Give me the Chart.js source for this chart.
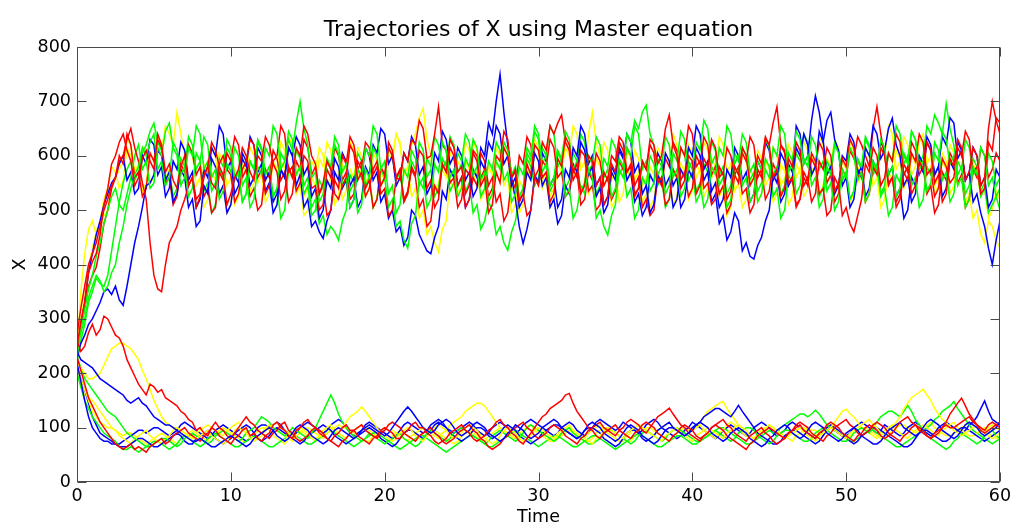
<!DOCTYPE html>
<html>
<head>
<meta charset="utf-8">
<title>Trajectories of X using Master equation</title>
<script src="https://cdn.jsdelivr.net/npm/chart.js@4.4.1/dist/chart.umd.min.js"></script>
<style>
  html, body { margin: 0; padding: 0; background: #ffffff; }
  #wrap { position: relative; width: 1021px; height: 529px; }
</style>
</head>
<body>
<div id="wrap"><canvas id="chart"></canvas></div>
<script>
// Sampling times (step 0.25)
const times = [
  0, 0.25, 0.5, 0.75, 1, 1.25, 1.5, 1.75, 2, 2.25, 2.5, 2.75, 3, 3.25, 3.5, 3.75, 4, 4.25, 4.5, 4.75,
  5, 5.25, 5.5, 5.75, 6, 6.25, 6.5, 6.75, 7, 7.25, 7.5, 7.75, 8, 8.25, 8.5, 8.75, 9, 9.25, 9.5, 9.75,
  10, 10.25, 10.5, 10.75, 11, 11.25, 11.5, 11.75, 12, 12.25, 12.5, 12.75, 13, 13.25, 13.5, 13.75, 14, 14.25, 14.5, 14.75,
  15, 15.25, 15.5, 15.75, 16, 16.25, 16.5, 16.75, 17, 17.25, 17.5, 17.75, 18, 18.25, 18.5, 18.75, 19, 19.25, 19.5, 19.75,
  20, 20.25, 20.5, 20.75, 21, 21.25, 21.5, 21.75, 22, 22.25, 22.5, 22.75, 23, 23.25, 23.5, 23.75, 24, 24.25, 24.5, 24.75,
  25, 25.25, 25.5, 25.75, 26, 26.25, 26.5, 26.75, 27, 27.25, 27.5, 27.75, 28, 28.25, 28.5, 28.75, 29, 29.25, 29.5, 29.75,
  30, 30.25, 30.5, 30.75, 31, 31.25, 31.5, 31.75, 32, 32.25, 32.5, 32.75, 33, 33.25, 33.5, 33.75, 34, 34.25, 34.5, 34.75,
  35, 35.25, 35.5, 35.75, 36, 36.25, 36.5, 36.75, 37, 37.25, 37.5, 37.75, 38, 38.25, 38.5, 38.75, 39, 39.25, 39.5, 39.75,
  40, 40.25, 40.5, 40.75, 41, 41.25, 41.5, 41.75, 42, 42.25, 42.5, 42.75, 43, 43.25, 43.5, 43.75, 44, 44.25, 44.5, 44.75,
  45, 45.25, 45.5, 45.75, 46, 46.25, 46.5, 46.75, 47, 47.25, 47.5, 47.75, 48, 48.25, 48.5, 48.75, 49, 49.25, 49.5, 49.75,
  50, 50.25, 50.5, 50.75, 51, 51.25, 51.5, 51.75, 52, 52.25, 52.5, 52.75, 53, 53.25, 53.5, 53.75, 54, 54.25, 54.5, 54.75,
  55, 55.25, 55.5, 55.75, 56, 56.25, 56.5, 56.75, 57, 57.25, 57.5, 57.75, 58, 58.25, 58.5, 58.75, 59, 59.25, 59.5, 59.75,
  60
];

// Trajectories settling on the upper state (~560)
const redHighA = [
  250,295, 330,385, 405,420, 455,510, 540,585, 600,625, 640,610, 590,545, 560,595, 610,590,
  575,640, 620,570, 585,555, 540,580, 600,545, 560,505, 525,560, 580,625, 610,580, 565,510,
  530,560, 575,615, 600,570, 555,600, 590,635, 620,585, 570,520, 535,580, 560,615, 600,655,
  640,600, 585,530, 550,590, 575,530, 520,545, 560,620, 605,555, 570,525, 540,575, 590,545,
  560,625, 610,560, 575,515, 530,580, 565,610, 600,540, 555,505, 520,585, 570,630, 615,570,
  580,530, 545,605, 590,545, 560,495, 510,570, 550,615, 600,560, 575,515, 530,585, 565,620,
  610,560, 570,515, 530,595, 580,635, 620,570, 585,530, 545,600, 590,545, 560,510, 525,585,
  570,625, 610,570, 585,525, 540,590, 575,630, 620,585, 600,650, 675,620, 600,540, 555,600,
  590,530, 545,595, 580,630, 615,560, 570,520, 535,580, 565,615, 600,545, 560,600, 585,635,
  620,560, 575,525, 540,595, 580,625, 610,545, 560,515, 530,590, 575,615, 600,535, 550,490,
  505,475, 460,490, 520,585, 570,615, 600,545, 560,605, 590,640, 625,565, 580,530, 545,590,
  575,625, 610,550, 565,515, 530,595, 580,630, 615,555, 570,615, 600,545, 560,650, 700,665,
  640
];
const redHighB = [
  270,320, 360,400, 420,440, 470,500, 520,545, 560,590, 600,630, 650,615, 590,550, 520,440,
  380,355, 350,400, 440,455, 470,500, 520,545, 560,520, 530,565, 580,550, 540,585, 600,575,
  565,515, 530,575, 590,630, 620,560, 575,530, 545,590, 600,655, 640,570, 580,535, 550,600,
  590,540, 545,500, 510,575, 560,615, 600,555, 570,520, 530,590, 575,625, 615,565, 580,530,
  540,490, 500,560, 555,605, 590,630, 620,665, 650,595, 600,640, 690,620, 610,550, 560,505,
  520,575, 565,610, 600,560, 575,525, 540,600, 590,645, 630,560, 570,520, 530,490, 500,560,
  545,590, 580,630, 615,560, 570,525, 535,575, 560,610, 600,535, 545,500, 510,570, 555,600,
  590,635, 625,570, 580,530, 540,590, 575,620, 605,550, 560,510, 520,575, 560,615, 600,655,
  640,580, 590,540, 550,510, 520,580, 565,615, 600,565, 580,530, 540,495, 510,575, 560,630,
  620,660, 690,620, 610,550, 560,510, 520,570, 555,605, 590,530, 540,490, 500,560, 545,595,
  580,630, 615,560, 570,515, 530,580, 565,615, 600,550, 560,505, 520,570, 555,605, 590,640,
  625,565, 575,525, 540,595, 580,550, 560,615, 600,645, 630,570, 580,530, 540,625, 610,670,
  660
];
const redHighC = [
  240,285, 320,360, 380,395, 430,475, 500,540, 560,600, 585,640, 620,560, 570,525, 540,605,
  590,630, 615,550, 560,510, 525,585, 570,620, 605,565, 580,525, 540,495, 505,570, 555,605,
  590,635, 620,560, 575,525, 540,500, 510,575, 560,610, 595,555, 570,515, 530,590, 575,630,
  615,565, 580,530, 545,490, 500,555, 540,600, 585,635, 620,575, 590,540, 555,505, 520,580,
  565,615, 600,560, 575,520, 535,575, 560,505, 520,470, 480,545, 530,585, 570,615, 600,545,
  560,505, 520,560, 545,605, 590,545, 560,515, 530,480, 495,555, 540,600, 585,635, 620,560,
  575,625, 610,655, 640,660, 675,625, 610,555, 570,510, 520,570, 555,605, 590,545, 560,520,
  535,590, 575,615, 600,545, 560,505, 520,490, 500,560, 545,595, 580,625, 610,555, 570,525,
  540,600, 585,635, 620,565, 580,530, 545,495, 510,565, 550,605, 590,635, 620,560, 575,520,
  535,585, 570,620, 605,545, 560,505, 520,560, 545,595, 580,625, 610,550, 565,515, 530,575,
  560,610, 595,635, 620,600, 580,650, 690,640, 600,545, 560,515, 530,585, 570,625, 610,565,
  580,530, 545,495, 510,570, 555,605, 590,550, 565,505, 520,575, 560,615, 600,560, 575,605,
  590
];
const yellowHighA = [
  240,350, 420,465, 480,455, 470,490, 500,540, 560,575, 590,630, 620,570, 580,615, 600,550,
  560,625, 610,655, 640,620, 680,640, 600,545, 560,505, 520,585, 570,615, 600,530, 545,495,
  510,575, 560,605, 590,535, 550,615, 600,555, 570,515, 530,590, 575,635, 620,565, 580,525,
  540,590, 575,615, 600,545, 560,510, 525,585, 570,625, 610,560, 575,525, 540,605, 590,545,
  560,615, 600,640, 620,565, 580,620, 640,670, 687,630, 600,535, 550,575, 560,605, 590,530,
  545,590, 575,625, 610,550, 565,515, 530,590, 575,615, 600,535, 550,495, 510,575, 560,605,
  590,540, 555,505, 520,585, 570,615, 600,655, 640,575, 590,530, 545,595, 580,625, 610,555,
  570,515, 530,575, 560,610, 595,545, 560,505, 520,570, 555,605, 590,640, 620,560, 575,520,
  535,585, 570,625, 610,560, 575,525, 540,490, 505,565, 550,605, 590,545, 560,515, 530,590,
  575,615, 600,545, 560,510, 525,585, 570,625, 610,570, 585,530, 545,595, 580,630, 615,555,
  570,515, 530,580, 565,615, 600,545, 560,505, 520,570, 555,610, 595,635, 620,565, 580,625,
  640,585, 600,545, 560,605, 590,530, 545,590, 575,515, 530,485, 500,455, 440,480, 470,445,
  430
];
const yellowHighB = [
  250,300, 340,395, 430,460, 480,520, 540,580, 570,540, 555,615, 600,570, 585,535, 550,605,
  590,635, 620,560, 575,525, 540,595, 580,620, 605,545, 560,505, 520,570, 555,605, 590,545,
  560,510, 525,585, 570,615, 600,550, 565,515, 530,590, 575,625, 610,565, 580,530, 545,490,
  500,560, 545,595, 580,625, 610,555, 570,520, 535,575, 560,615, 600,550, 565,505, 520,570,
  555,605, 590,640, 625,565, 580,525, 540,485, 500,455, 470,440, 423,465, 480,555, 540,590,
  575,625, 610,555, 570,520, 535,580, 565,615, 600,545, 560,495, 510,555, 540,595, 580,630,
  615,555, 570,525, 540,595, 580,625, 610,560, 575,530, 550,640, 680,625, 600,545, 560,505,
  520,575, 560,610, 595,555, 570,515, 530,580, 565,615, 600,545, 560,510, 525,585, 570,620,
  605,560, 575,525, 540,595, 580,635, 620,570, 585,535, 550,505, 520,575, 560,610, 595,545,
  560,515, 530,585, 570,620, 605,560, 575,525, 540,600, 585,635, 620,565, 580,530, 545,590,
  575,625, 610,550, 565,515, 530,585, 570,615, 600,655, 640,575, 590,540, 555,600, 585,635,
  620,565, 580,530, 545,590, 575,620, 605,545, 560,510, 525,585, 570,525, 540,485, 500,535,
  520
];
const greenHighA = [
  240,275, 300,340, 360,380, 370,350, 360,385, 400,440, 470,510, 540,565, 580,615, 600,625,
  640,575, 590,545, 560,625, 610,565, 580,525, 540,605, 590,635, 620,560, 575,520, 535,585,
  570,615, 600,545, 560,505, 520,580, 565,615, 600,655, 640,575, 590,630, 610,660, 700,650,
  620,560, 570,515, 530,590, 575,620, 605,545, 560,505, 520,575, 560,615, 600,655, 640,575,
  590,530, 545,495, 510,575, 560,610, 595,545, 560,505, 520,585, 570,625, 610,560, 575,525,
  540,595, 580,630, 615,555, 570,515, 530,590, 575,625, 610,565, 580,525, 540,605, 590,645,
  630,570, 585,535, 550,605, 590,525, 540,485, 500,545, 530,575, 560,485, 500,470, 454,490,
  510,575, 560,615, 600,655, 640,575, 590,535, 550,595, 580,635, 620,560, 575,525, 540,590,
  575,625, 610,665, 650,585, 600,545, 560,505, 520,580, 565,615, 600,555, 570,515, 530,575,
  560,615, 600,655, 640,570, 585,530, 545,595, 580,635, 620,575, 590,535, 550,500, 515,575,
  560,615, 600,555, 570,515, 530,590, 575,630, 615,565, 580,525, 540,600, 585,645, 630,575,
  590,535, 550,605, 590,645, 630,585, 600,545, 560,505, 520,580, 565,615, 600,545, 560,525,
  540
];
const greenHighB = [
  230,280, 320,355, 380,415, 440,475, 500,525, 540,510, 500,530, 560,600, 620,575, 590,540,
  550,615, 600,645, 660,615, 600,545, 560,615, 600,655, 640,575, 590,535, 550,595, 580,630,
  615,560, 570,515, 530,590, 575,625, 610,565, 580,525, 540,605, 590,645, 630,565, 580,530,
  545,490, 500,555, 540,595, 580,635, 620,570, 585,535, 550,495, 510,575, 560,615, 600,545,
  560,505, 520,470, 480,445, 430,475, 490,555, 540,595, 580,635, 620,575, 590,535, 550,605,
  590,640, 625,565, 580,525, 540,590, 575,625, 610,555, 570,515, 530,580, 565,615, 600,655,
  640,585, 600,545, 560,610, 595,645, 630,575, 590,535, 550,600, 585,635, 620,560, 575,525,
  540,595, 580,640, 625,665, 650,680, 693,640, 620,565, 580,530, 545,605, 590,645, 630,575,
  590,535, 550,505, 520,580, 565,615, 600,655, 640,585, 600,545, 560,515, 530,590, 575,630,
  615,565, 580,530, 545,605, 590,645, 630,585, 600,545, 560,505, 520,580, 565,620, 605,555,
  570,520, 535,595, 580,635, 620,570, 585,530, 545,605, 590,655, 640,585, 600,545, 560,505,
  520,580, 565,625, 610,555, 570,515, 530,590, 575,630, 615,565, 580,535, 550,605, 590,545,
  560
];
const greenHighC = [
  220,260, 290,330, 350,375, 365,360, 380,425, 470,515, 550,575, 590,555, 570,605, 620,645,
  660,625, 610,555, 570,525, 540,595, 580,635, 620,575, 590,535, 550,495, 510,575, 560,615,
  600,555, 570,515, 530,590, 575,630, 615,565, 580,525, 540,485, 500,575, 560,610, 595,545,
  560,505, 520,475, 490,455, 470,460, 445,480, 500,565, 550,605, 590,545, 560,505, 520,575,
  560,615, 600,555, 570,515, 530,590, 575,625, 610,560, 575,525, 540,595, 580,635, 620,570,
  585,535, 550,495, 510,465, 480,515, 500,455, 470,440, 426,460, 480,525, 540,595, 580,545,
  560,615, 600,655, 640,580, 595,540, 555,605, 590,640, 625,570, 585,530, 545,595, 580,630,
  615,565, 580,525, 540,485, 500,560, 545,600, 585,545, 560,505, 520,575, 560,615, 600,555,
  570,515, 530,585, 570,625, 610,565, 580,530, 545,605, 590,640, 625,570, 585,535, 550,595,
  580,525, 540,485, 500,565, 550,605, 590,640, 625,565, 580,525, 540,590, 575,625, 610,555,
  570,520, 535,590, 575,630, 615,565, 580,525, 540,490, 505,565, 550,605, 590,645, 630,585,
  600,655, 640,675, 660,640, 696,650, 620,565, 580,530, 545,595, 580,525, 540,495, 510,525,
  500
];
const blueHighA = [
  230,255, 270,290, 300,315, 330,350, 355,345, 360,335, 325,360, 400,440, 470,505, 545,550,
  565,610, 600,555, 570,515, 530,575, 560,505, 520,470, 480,545, 530,595, 580,530, 545,495,
  510,565, 550,605, 590,545, 560,615, 600,555, 570,515, 530,575, 560,615, 600,635, 620,565,
  580,525, 540,485, 500,555, 540,595, 580,540, 555,505, 520,575, 560,615, 600,555, 570,515,
  530,485, 500,460, 470,435, 450,500, 490,455, 440,425, 420,450, 470,535, 520,575, 560,615,
  600,555, 570,525, 540,590, 575,625, 610,655, 640,585, 600,545, 560,505, 520,570, 555,605,
  590,545, 560,505, 520,475, 490,545, 530,585, 570,625, 610,565, 580,525, 540,495, 510,570,
  555,610, 595,640, 625,570, 585,530, 545,495, 510,565, 550,605, 590,545, 560,505, 520,575,
  560,615, 600,555, 570,515, 530,475, 490,445, 460,495, 480,425, 440,415, 410,435, 450,480,
  500,565, 550,605, 590,545, 560,615, 600,640, 620,565, 580,645, 625,665, 680,630, 610,545,
  560,505, 520,575, 560,615, 600,655, 640,595, 610,650, 669,620, 600,545, 560,515, 530,585,
  570,625, 610,565, 580,525, 540,590, 575,625, 610,555, 570,515, 530,495, 470,430, 400,445,
  480
];
const blueHighB = [
  240,290, 330,385, 420,455, 480,510, 530,550, 560,585, 600,555, 570,530, 540,600, 585,630,
  620,565, 580,525, 540,590, 575,625, 610,555, 570,505, 520,575, 560,615, 600,655, 640,575,
  590,530, 545,595, 580,635, 620,570, 585,535, 550,495, 510,575, 560,615, 600,545, 565,505,
  520,470, 480,460, 448,480, 500,570, 555,605, 590,545, 560,505, 520,580, 565,620, 605,650,
  640,585, 600,545, 560,605, 590,635, 620,565, 580,530, 545,605, 590,645, 630,585, 600,545,
  560,505, 520,575, 560,615, 600,660, 640,700, 750,680, 620,560, 520,470, 439,465, 500,565,
  550,605, 590,545, 560,505, 520,575, 560,615, 600,655, 640,585, 600,545, 560,510, 525,580,
  565,615, 600,555, 570,515, 530,490, 505,565, 550,605, 590,545, 560,505, 520,575, 560,615,
  600,655, 640,575, 590,535, 550,505, 520,575, 560,615, 600,555, 570,515, 530,590, 575,625,
  610,555, 570,515, 530,585, 570,655, 640,585, 600,665, 710,680, 630,565, 580,530, 545,600,
  590,640, 625,565, 580,525, 540,590, 575,625, 610,565, 580,525, 540,485, 500,560, 545,600,
  585,635, 620,565, 580,635, 620,670, 660,595, 610,555, 570,615, 600,545, 560,505, 520,575,
  560
];

// Trajectories settling on the lower state (~90)
const redLowA = [
  260,240, 250,275, 290,270, 280,305, 300,285, 270,265, 250,225, 210,195, 180,170, 160,180,
  175,165, 170,155, 150,145, 140,130, 125,115, 110,95, 100,90, 85,100, 95,85, 80,75,
  70,80, 85,95, 100,85, 90,80, 75,85, 90,105, 110,100, 95,85, 80,95, 100,110,
  115,105, 100,90, 85,80, 75,85, 90,100, 105,95, 95,85, 80,75, 70,80, 85,95,
  100,95, 90,80, 80,90, 95,105, 110,100, 100,90, 85,75, 70,75, 80,90, 95,100,
  105,95, 90,80, 75,80, 85,95, 100,110, 115,105, 100,90, 85,75, 70,80, 90,100,
  110,120, 125,135, 140,145, 150,160, 163,145, 130,120, 110,100, 95,85, 80,90, 95,100,
  105,95, 90,85, 80,90, 95,105, 110,105, 100,90, 85,80, 75,85, 90,100, 105,100,
  95,85, 80,85, 90,100, 105,110, 115,105, 100,90, 85,80, 75,85, 90,95, 100,90,
  85,75, 70,75, 80,90, 95,100, 105,95, 90,85, 80,90, 95,105, 110,105, 100,90,
  85,80, 75,85, 90,100, 105,100, 95,85, 80,85, 90,100, 110,115, 120,110, 105,95,
  90,85, 80,90, 95,100, 110,125, 135,145, 154,140, 125,115, 105,100, 95,105, 110,105,
  100
];
const redLowB = [
  230,205, 180,155, 140,125, 110,100, 90,80, 70,65, 60,65, 70,60, 65,60, 55,65,
  70,75, 80,70, 75,85, 90,95, 100,90, 85,80, 75,85, 90,100, 110,100, 95,85,
  80,90, 100,110, 120,110, 105,95, 90,85, 80,90, 95,105, 110,95, 90,80, 75,80,
  85,95, 100,95, 90,80, 75,70, 65,75, 80,90, 95,100, 105,95, 90,85, 80,90,
  95,105, 110,105, 100,90, 85,80, 75,85, 90,95, 100,90, 85,75, 70,75, 80,90,
  95,100, 105,95, 90,80, 75,65, 60,65, 70,80, 85,95, 100,105, 110,100, 95,85,
  80,85, 90,100, 105,100, 95,85, 80,75, 70,80, 85,95, 100,105, 110,100, 95,90,
  85,95, 100,110, 115,110, 105,95, 90,100, 110,120, 125,130, 136,125, 115,105, 100,90,
  85,80, 75,85, 90,100, 105,100, 95,85, 80,75, 70,65, 60,70, 75,85, 90,95,
  100,95, 90,85, 80,90, 95,105, 110,105, 100,90, 85,80, 75,85, 90,100, 105,110,
  115,105, 100,90, 85,90, 95,105, 110,105, 100,90, 85,80, 75,85, 90,100, 105,100,
  95,85, 80,85, 90,100, 105,100, 100,105, 110,115, 120,110, 105,95, 90,95, 100,105,
  110
];
const yellowLowA = [
  220,210, 200,190, 190,195, 200,215, 230,245, 250,255, 255,250, 245,235, 225,205, 190,170,
  150,135, 120,110, 105,100, 100,95, 90,85, 80,80, 85,90, 95,85, 80,75, 70,75,
  85,95, 100,95, 90,80, 75,80, 85,95, 100,105, 110,100, 95,90, 85,95, 100,95,
  90,85, 80,85, 95,100, 105,95, 90,100, 110,120, 125,130, 138,130, 120,110, 100,90,
  85,80, 75,80, 90,95, 100,95, 85,80, 75,85, 90,100, 105,100, 95,85, 80,85,
  90,100, 105,100, 95,85, 80,75, 70,75, 85,95, 100,95, 90,80, 75,80, 85,95,
  100,95, 90,85, 80,90, 95,100, 105,95, 90,85, 80,75, 70,80, 85,95, 100,95,
  90,85, 80,90, 95,100, 105,100, 95,90, 85,80, 75,85, 90,95, 100,90, 85,80,
  75,85, 90,95, 100,95, 90,85, 80,90, 95,100, 105,100, 95,85, 80,85, 90,100,
  105,100, 95,85, 80,85, 90,95, 100,90, 85,80, 75,85, 90,95, 100,95, 90,85,
  80,90, 95,100, 105,110, 115,105, 100,90, 85,95, 100,110, 120,135, 145,155, 160,165,
  171,160, 150,135, 125,115, 110,100, 95,90, 85,90, 95,100, 105,95, 90,85, 80,85,
  90
];
const yellowLowB = [
  210,190, 170,150, 130,120, 110,105, 100,100, 95,85, 80,75, 70,80, 85,90, 95,85,
  80,75, 70,80, 85,95, 100,95, 90,85, 80,90, 95,100, 105,100, 95,90, 85,95,
  100,105, 110,100, 95,85, 80,85, 90,100, 105,100, 95,90, 85,80, 75,85, 90,95,
  100,95, 90,85, 80,90, 95,100, 105,100, 100,95, 90,85, 80,75, 75,85, 90,95,
  100,95, 95,90, 85,80, 75,85, 90,95, 100,95, 90,85, 80,90, 95,105, 110,115,
  120,130, 135,140, 145,145, 140,130, 120,110, 100,95, 90,85, 80,90, 95,100, 105,95,
  90,85, 80,75, 75,85, 90,95, 100,95, 90,85, 80,90, 95,100, 105,95, 90,85,
  80,75, 75,85, 90,100, 105,100, 95,90, 85,95, 100,105, 110,100, 95,90, 85,90,
  95,100, 105,95, 90,85, 80,90, 95,105, 110,105, 100,90, 85,80, 80,90, 95,100,
  105,100, 95,90, 85,80, 75,85, 90,95, 100,95, 95,90, 85,95, 100,110, 120,130,
  134,125, 120,110, 100,95, 90,85, 80,90, 95,100, 105,95, 90,85, 80,90, 95,100,
  105,100, 95,90, 85,95, 100,105, 110,100, 95,90, 85,85, 90,95, 100,90, 85,80,
  80
];
const yellowLowC = [
  200,175, 160,155, 150,140, 130,120, 110,100, 95,90, 85,90, 90,85, 80,75, 70,75,
  80,85, 90,85, 80,75, 70,80, 85,90, 95,90, 85,80, 75,85, 90,95, 100,95,
  90,85, 80,75, 75,80, 85,95, 100,100, 95,85, 80,75, 70,80, 85,90, 95,90,
  85,80, 75,85, 90,95, 100,95, 90,85, 80,90, 95,100, 105,100, 95,90, 85,80,
  75,80, 85,90, 95,90, 85,80, 75,85, 90,95, 100,95, 90,85, 80,75, 70,75,
  85,90, 95,90, 85,80, 75,85, 90,95, 100,95, 90,85, 80,85, 90,100, 105,100,
  95,90, 85,80, 75,80, 85,90, 95,90, 85,80, 75,75, 80,90, 95,100, 100,95,
  90,85, 80,75, 75,85, 90,95, 100,100, 95,90, 85,80, 75,85, 90,95, 100,95,
  95,100, 110,120, 130,135, 140,145, 148,135, 125,115, 105,95, 90,85, 80,85, 90,95,
  100,95, 90,85, 80,85, 90,95, 100,100, 95,90, 85,90, 95,100, 105,95, 90,85,
  80,85, 90,95, 100,100, 95,90, 85,80, 80,85, 95,100, 105,105, 100,95, 90,95,
  100,105, 110,100, 95,90, 85,85, 90,95, 100,105, 110,105, 100,95, 90,100, 105,100,
  95
];
const blueLowA = [
  240,225, 220,215, 210,200, 190,185, 180,175, 170,165, 160,150, 145,150, 155,145, 140,130,
  120,115, 110,105, 105,100, 95,90, 85,80, 75,75, 80,75, 70,65, 65,70, 75,80,
  85,80, 75,70, 65,70, 80,85, 90,95, 100,95, 85,80, 75,80, 90,100, 105,100,
  95,85, 80,75, 70,75, 85,95, 100,95, 90,85, 80,85, 95,100, 105,100, 95,90,
  85,90, 100,110, 120,130, 138,130, 120,110, 100,95, 90,95, 105,110, 115,110, 100,90,
  85,90, 95,105, 110,105, 100,90, 85,80, 75,80, 90,95, 105,100, 95,85, 80,85,
  90,100, 105,110, 115,110, 100,95, 90,85, 80,85, 95,105, 110,105, 100,90, 85,80,
  75,80, 90,100, 105,100, 95,85, 80,75, 70,75, 85,95, 100,100, 95,90, 85,90,
  95,105, 110,105, 100,90, 85,80, 75,80, 90,95, 100,95, 90,80, 75,70, 65,70,
  80,85, 95,100, 105,100, 90,85, 80,85, 95,105, 110,105, 100,90, 85,80, 75,80,
  90,95, 100,95, 85,80, 75,70, 70,75, 85,95, 100,105, 110,100, 95,90, 85,90,
  100,110, 115,110, 105,95, 90,85, 80,85, 95,105, 110,105, 100,90, 85,90, 95,100,
  110
];
const blueLowB = [
  220,185, 150,120, 100,90, 80,75, 75,70, 70,65, 65,65, 70,75, 80,80, 75,70,
  65,65, 70,75, 80,85, 90,85, 75,70, 70,80, 85,90, 95,90, 80,75, 70,75,
  80,90, 95,100, 105,100, 90,80, 75,80, 85,95, 100,95, 90,85, 80,75, 70,75,
  85,90, 95,100, 105,100, 95,85, 80,75, 70,75, 80,85, 90,95, 100,95, 90,80,
  75,70, 65,70, 80,90, 95,95, 90,85, 80,85, 95,105, 110,105, 100,90, 85,80,
  75,80, 85,95, 100,100, 95,85, 80,85, 90,100, 105,100, 95,85, 80,75, 70,75,
  80,90, 95,100, 105,105, 100,95, 90,85, 80,85, 95,100, 100,95, 90,80, 75,70,
  65,70, 80,90, 95,95, 90,80, 75,80, 85,95, 100,105, 110,100, 95,90, 85,90,
  100,105, 110,120, 125,130, 135,135, 130,125, 120,130, 141,130, 120,110, 100,90, 85,80,
  75,70, 70,75, 85,90, 95,95, 90,85, 80,75, 70,75, 85,95, 100,95, 90,85,
  80,75, 70,75, 85,90, 95,100, 100,95, 90,85, 80,75, 70,65, 65,70, 80,90,
  95,95, 90,85, 80,75, 75,80, 90,95, 100,100, 95,90, 85,80, 75,80, 85,90,
  95
];
const blueLowC = [
  210,190, 170,145, 120,105, 90,85, 80,75, 70,70, 75,80, 85,90, 95,95, 90,95,
  100,100, 95,90, 85,90, 95,105, 110,105, 100,95, 90,85, 80,85, 95,100, 105,100,
  95,90, 85,80, 75,80, 90,100, 105,105, 100,105, 110,105, 95,90, 85,90, 100,105,
  110,105, 100,95, 90,95, 105,110, 115,110, 100,90, 85,90, 95,105, 110,105, 100,95,
  90,85, 80,85, 95,105, 110,105, 100,95, 90,95, 105,110, 115,110, 100,95, 90,95,
  100,105, 110,105, 95,90, 85,90, 100,105, 110,105, 100,95, 90,95, 105,110, 115,110,
  105,100, 95,90, 85,90, 100,105, 110,105, 95,90, 85,90, 100,110, 115,110, 105,100,
  95,100, 110,105, 100,95, 90,95, 105,110, 115,110, 100,95, 90,85, 80,85, 95,100,
  110,105, 100,95, 90,85, 80,85, 95,100, 105,100, 95,90, 85,90, 100,105, 110,105,
  100,90, 85,90, 95,105, 110,105, 100,95, 90,85, 80,85, 95,100, 105,100, 95,90,
  85,90, 100,105, 110,105, 100,95, 90,95, 105,100, 95,90, 85,90, 100,105, 110,105,
  95,90, 85,90, 100,105, 110,105, 100,95, 90,95, 105,110, 120,135, 149,130, 115,110,
  105
];
const greenLowA = [
  230,210, 190,180, 170,160, 150,140, 130,125, 120,110, 100,90, 85,80, 75,70, 65,65,
  70,75, 80,80, 75,70, 65,70, 80,85, 90,85, 80,75, 70,75, 85,90, 95,90,
  85,80, 75,80, 90,95, 100,110, 120,115, 110,100, 95,90, 85,90, 100,95, 90,85,
  80,90, 100,115, 130,145, 160,145, 125,110, 100,90, 85,80, 75,80, 90,85, 80,75,
  70,75, 80,85, 90,80, 75,70, 65,70, 80,90, 95,90, 85,80, 75,80, 90,95,
  100,95, 90,85, 80,75, 70,75, 85,90, 95,90, 85,80, 75,80, 90,100, 105,100,
  95,90, 85,80, 75,80, 90,95, 100,90, 85,80, 75,70, 70,75, 80,90, 95,95,
  90,85, 80,75, 70,75, 85,90, 95,90, 85,80, 75,80, 90,95, 100,95, 90,85,
  80,75, 75,80, 85,90, 95,90, 85,80, 75,80, 90,95, 100,100, 95,85, 80,75,
  70,75, 85,90, 95,95, 90,85, 80,75, 75,80, 90,95, 100,95, 90,85, 80,75,
  75,80, 90,95, 100,95, 90,100, 110,120, 125,130, 130,125, 120,130, 141,130, 115,105,
  95,85, 80,75, 70,65, 60,65, 75,80, 90,85, 80,75, 70,75, 85,90, 95,85,
  80
];
const greenLowB = [
  200,175, 150,135, 120,110, 100,90, 85,80, 75,65, 60,60, 65,60, 55,60, 65,70,
  75,75, 70,65, 60,65, 70,80, 85,80, 75,70, 65,70, 80,85, 90,85, 80,75,
  70,65, 65,70, 75,80, 85,80, 75,70, 65,65, 70,75, 80,85, 90,85, 80,75,
  70,70, 75,80, 85,90, 95,90, 85,80, 75,70, 65,70, 75,80, 85,90, 90,85,
  80,75, 70,65, 60,65, 70,75, 80,85, 85,80, 75,70, 65,60, 55,60, 65,70,
  75,80, 85,85, 80,75, 70,65, 65,70, 75,80, 85,90, 95,90, 85,80, 75,70,
  65,70, 75,80, 85,85, 80,75, 70,65, 65,70, 75,80, 85,85, 80,75, 70,65,
  60,65, 70,75, 80,85, 90,85, 80,75, 70,65, 65,70, 75,80, 85,85, 80,75,
  70,70, 75,80, 85,90, 95,100, 100,95, 90,85, 80,75, 70,70, 75,80, 85,90,
  95,90, 90,100, 105,110, 115,120, 125,125, 120,125, 132,125, 115,105, 100,95, 90,85,
  80,75, 75,80, 85,90, 95,95, 90,85, 80,75, 70,65, 65,70, 75,80, 85,90,
  95,100, 105,115, 120,130, 135,140, 148,135, 125,115, 105,95, 90,85, 80,75, 70,75,
  80
];

// Axis ticks
const xTicks = [0, 10, 20, 30, 40, 50, 60];
const yTicks = [0, 100, 200, 300, 400, 500, 600, 700, 800];

const RED = '#ff0000', GREEN = '#00ff00', BLUE = '#0000ff', YELLOW = '#ffff00';

// Listed top-most first (Chart.js paints dataset 0 last)
const series = [
  [redHighA, RED], [redLowA, RED], [greenHighA, GREEN], [redHighB, RED],
  [blueLowA, BLUE], [greenHighB, GREEN], [redLowB, RED], [blueHighA, BLUE],
  [redHighC, RED], [yellowLowA, YELLOW], [greenLowA, GREEN], [blueHighB, BLUE],
  [greenHighC, GREEN], [blueLowB, BLUE], [yellowLowB, YELLOW], [greenLowB, GREEN],
  [blueLowC, BLUE], [yellowHighA, YELLOW], [yellowLowC, YELLOW], [yellowHighB, YELLOW]
];

series.forEach(([vals], k) => {
  if (vals.length !== times.length) throw new Error('series ' + k + ' length ' + vals.length + ' != ' + times.length);
});

const FONT = "'DejaVu Sans', Verdana, sans-serif";

const datasets = series.map(([vals, color]) => ({
  data: vals.map((v, i) => ({ x: times[i], y: v })),
  borderColor: color,
  borderWidth: 1.5,
  pointRadius: 0,
  tension: 0,
  fill: false
}));

// Box around the plot with inward tick marks on all four sides
const boxAxes = {
  id: 'boxAxes',
  afterDatasetsDraw(chart) {
    const { ctx, chartArea: a, scales: { x, y } } = chart;
    const len = 9;
    ctx.save();
    ctx.strokeStyle = '#4a4a4a';
    ctx.lineWidth = 1;
    const seg = (x1, y1, x2, y2) => { ctx.beginPath(); ctx.moveTo(x1, y1); ctx.lineTo(x2, y2); ctx.stroke(); };
    const L = Math.round(a.left) + 0.5, R = Math.round(a.right) - 0.5;
    const T = Math.round(a.top) + 0.5, B = Math.round(a.bottom) - 0.5;
    ctx.strokeRect(L, T, R - L, B - T);
    xTicks.forEach(v => {
      const px = Math.round(x.getPixelForValue(v)) + 0.5;
      seg(px, B, px, B - len);
      seg(px, T, px, T + len);
    });
    yTicks.forEach(v => {
      const py = Math.round(y.getPixelForValue(v)) + 0.5;
      seg(L, py, L + len, py);
      seg(R, py, R - len, py);
    });
    ctx.restore();
  }
};

new Chart(document.getElementById('chart'), {
  type: 'line',
  data: { datasets },
  plugins: [boxAxes],
  options: {
    responsive: true,
    maintainAspectRatio: false,
    devicePixelRatio: 1,
    animation: false,
    events: [],
    layout: { padding: { left: 0, right: 21, top: 0, bottom: 0 } },
    plugins: {
      legend: { display: false },
      tooltip: { enabled: false },
      title: {
        display: true,
        text: 'Trajectories of X using Master equation',
        fullSize: false,
        color: '#000000',
        font: { family: FONT, size: 22, weight: 'normal', lineHeight: 1.2 },
        padding: { top: 16.6, bottom: 4 }
      }
    },
    scales: {
      x: {
        type: 'linear',
        min: 0,
        max: 60,
        afterBuildTicks: s => { s.ticks = xTicks.map(v => ({ value: v })); },
        afterFit: s => { s.height = 47; },
        grid: { display: false, drawTicks: false },
        border: { display: false },
        ticks: { color: '#000000', font: { family: FONT, size: 17.5 }, padding: 4, maxRotation: 0 },
        title: {
          display: true,
          text: 'Time',
          color: '#000000',
          font: { family: FONT, size: 17.5, lineHeight: 1.2 },
          padding: { top: 0, bottom: 1 }
        }
      },
      y: {
        type: 'linear',
        min: 0,
        max: 800,
        afterBuildTicks: s => { s.ticks = yTicks.map(v => ({ value: v })); },
        afterFit: s => { s.width = 77; },
        grid: { display: false, drawTicks: false },
        border: { display: false },
        ticks: { color: '#000000', font: { family: FONT, size: 17.5 }, padding: 6 },
        title: {
          display: true,
          text: 'X',
          color: '#000000',
          font: { family: FONT, size: 17.5, lineHeight: 1.2 },
          padding: { top: 9.5, bottom: 0 }
        }
      }
    }
  }
});
</script>
</body>
</html>
